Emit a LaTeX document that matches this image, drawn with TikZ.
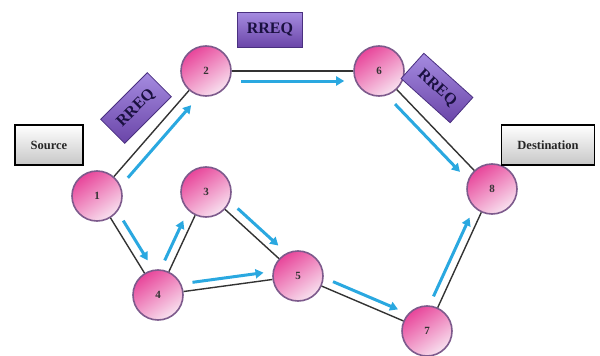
\documentclass[tikz,border=0pt]{standalone}
\usepackage{fontspec}
\setmainfont{Liberation Serif}
\usetikzlibrary{arrows.meta}
\definecolor{pinkdark}{HTML}{E8459A}
\definecolor{pinklight}{HTML}{F8E2F0}
\definecolor{nodeborder}{HTML}{7D5A8C}
\definecolor{flowblue}{HTML}{2AA8E0}
\definecolor{purpletop}{HTML}{A58BE0}
\definecolor{purplebot}{HTML}{6A45A8}
\definecolor{purpleline}{HTML}{4A3080}
\definecolor{rreqtext}{HTML}{1A1040}
\definecolor{edgegray}{HTML}{333333}
\tikzset{
  netnode/.style={circle, minimum size=50pt, inner sep=0pt, draw=nodeborder, line width=1.6pt,
    shading=axis, top color=pinkdark, bottom color=pinklight, shading angle=35,
    font=\fontsize{11}{11}\selectfont\bfseries, text=black!80},
  labelbox/.style={rectangle, draw=black, line width=1.3pt, top color=white, bottom color=black!22,
    minimum height=40pt, font=\fontsize{12.5}{13}\selectfont\bfseries, text=black!85},
  rreqbox/.style={rectangle, draw=purpleline, line width=0.8pt, top color=purpletop, bottom color=purplebot,
    minimum width=65pt, minimum height=35pt, inner sep=2pt, font=\fontsize{16}{16}\selectfont\bfseries, text=rreqtext},
  link/.style={draw=edgegray, line width=1.4pt},
  flow/.style={draw=flowblue, line width=3pt, -{Triangle[length=8pt,width=9pt]}, shorten <=9pt, shorten >=9pt}
}
\begin{document}
\begin{tikzpicture}[x=1pt,y=-1pt]
\useasboundingbox (0,0) rectangle (600,356);
% nodes
\node[netnode] (n1) at (97,196) {1};
\node[netnode] (n2) at (206,71) {2};
\node[netnode] (n3) at (206,192) {3};
\node[netnode] (n4) at (158,295) {4};
\node[netnode] (n5) at (298,276) {5};
\node[netnode] (n6) at (379,71) {6};
\node[netnode] (n7) at (427,331) {7};
\node[netnode] (n8) at (492,189) {8};
% black links
\draw[link] (n1) -- (n2);
\draw[link] (n2) -- (n6);
\draw[link] (n6) -- (n8);
\draw[link] (n1) -- (n4);
\draw[link] (n4) -- (n3);
\draw[link] (n3) -- (n5);
\draw[link] (n4) -- (n5);
\draw[link] (n5) -- (n7);
\draw[link] (n7) -- (n8);
% blue flows
\draw[flow, transform canvas={shift={(8,8)}}] (n1) -- (n2);
\draw[flow, transform canvas={shift={(0,10)}}] (n2) -- (n6);
\draw[flow, transform canvas={shift={(-8,8)}}] (n6) -- (n8);
\draw[flow, transform canvas={shift={(8,-5)}}] (n1) -- (n4);
\draw[flow, transform canvas={shift={(-8,-3)}}] (n4) -- (n3);
\draw[flow, transform canvas={shift={(6,-7)}}] (n3) -- (n5);
\draw[flow, transform canvas={shift={(0,-8)}}] (n4) -- (n5);
\draw[flow, transform canvas={shift={(3,-8)}}] (n5) -- (n7);
\draw[flow, transform canvas={shift={(-8,-3)}}] (n7) -- (n8);
% label boxes
\node[labelbox, minimum width=68pt] (src) at (49,145) {Source};
\node[labelbox, minimum width=93pt] (dst) at (548,145) {Destination};
% RREQ boxes
\node[rreqbox] (r1) at (270,30) {RREQ};
\node[rreqbox, minimum width=66pt, minimum height=34pt, rotate=45] (r2) at (136,108) {RREQ};
\node[rreqbox, minimum width=66pt, minimum height=34pt, rotate=-42] (r3) at (437,88) {RREQ};
\end{tikzpicture}
\end{document}
